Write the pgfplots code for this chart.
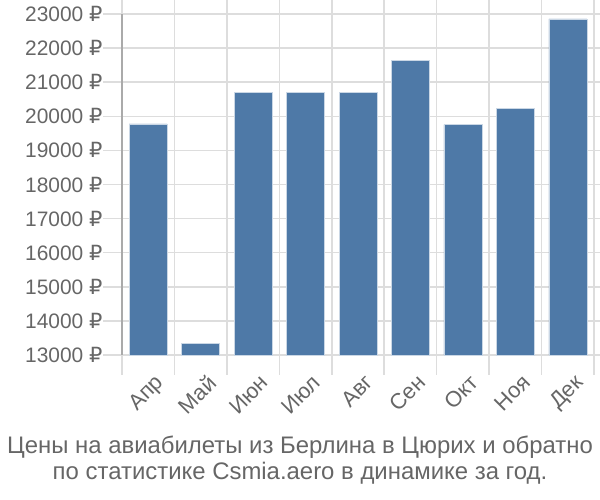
\documentclass[border=0pt]{standalone}
\usepackage{pgfplots}
\pgfplotsset{compat=1.18}
\usepackage{fontspec}
\setmainfont{Liberation Sans}
\newfontfamily\rubfont{DejaVu Sans}
\newcommand{\R}{{\rubfont ₽}}
\definecolor{barc}{RGB}{78,121,167}
\definecolor{txt}{RGB}{102,102,102}
\definecolor{gridc}{RGB}{221,221,221}
\definecolor{axc}{RGB}{170,170,170}
\begin{document}
\begin{tikzpicture}[x=1bp,y=1bp]
\useasboundingbox (0,0) rectangle (600,500);
\begin{axis}[
  at={(122bp,145bp)}, anchor=south west,
  scale only axis, width=472bp, height=341bp,
  xmin=-0.5, xmax=8.5, ymin=13000, ymax=23000,
  scaled y ticks=false,
  xtick={0,...,8},
  xticklabels={Апр,Май,Июн,Июл,Авг,Сен,Окт,Ноя,Дек},
  minor xtick={-0.5,0.5,...,8.5},
  xminorgrids, ymajorgrids,
  ytick={13000,14000,...,23000},
  yticklabels={13000 \R,14000 \R,15000 \R,16000 \R,17000 \R,18000 \R,19000 \R,20000 \R,21000 \R,22000 \R,23000 \R},
  tick align=outside,
  major tick length=19bp, minor tick length=20bp,
  x tick style={draw=none},
  minor x tick style={draw=gridc, line width=1.5bp},
  y tick style={draw=gridc, line width=1.5bp},
  grid style={draw=gridc, line width=1.5bp},
  minor grid style={draw=gridc, line width=1.5bp},
  axis line style={draw=none},
  ticklabel style={font=\fontsize{21}{23}\selectfont, text=txt},
  yticklabel style={xshift=3bp},
  xticklabel style={font=\fontsize{22}{24}\selectfont, rotate=45, anchor=north east, xshift=8bp, yshift=0bp},
  clip=false,
]
\addplot[ybar, bar width=38bp, fill=barc, draw=white!70!barc, line width=0.5bp] coordinates {
(0,19775) (1,13345) (2,20695) (3,20695) (4,20695) (5,21645) (6,19755) (7,20235) (8,22855)};
\draw[axc, line width=1.5bp] (axis cs:-0.5,13000) -- (axis cs:-0.5,23000);
\end{axis}
\node[text=txt, align=center, font=\fontsize{24}{26}\selectfont] at (300,40) {Цены на авиабилеты из Берлина в Цюрих и обратно\\по статистике Csmia.aero в динамике за год.};
\end{tikzpicture}
\end{document}
